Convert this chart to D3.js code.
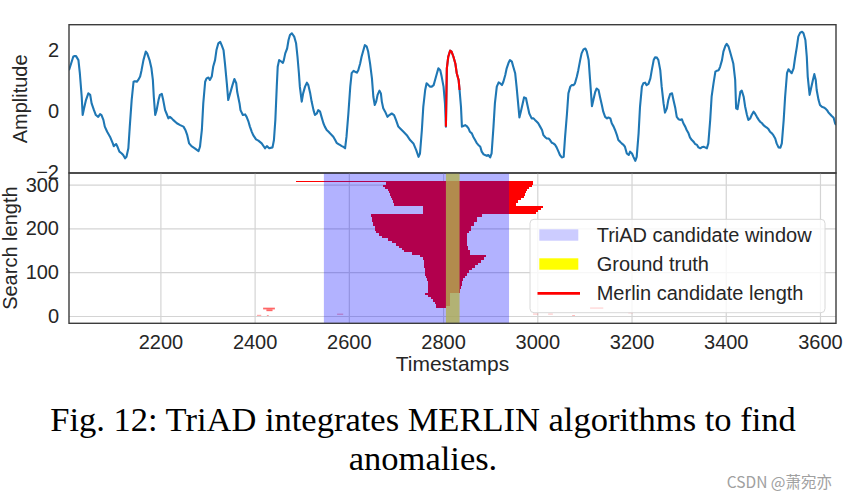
<!DOCTYPE html>
<html><head><meta charset="utf-8">
<script src="https://cdn.jsdelivr.net/npm/d3@7"></script>
<style>body{margin:0;background:#fff}svg{display:block}</style>
</head><body>
<svg id="c" width="847" height="499"></svg>
<script>
// ---------- data ----------
const ts = [2006,2015,2017,2021,2026,2029,2033,2035,2038,2042,2047,2051,2054,2059,2063,2068,2072,2075,2079,2082,2087,2093,2099,2101,2106,2109,2113,2118,2121,2125,2128,2132,2135,2139,2143,2146,2150,2153,2157,2160,2164,2169,2172,2177,2181,2184,2186,2189,2192,2196,2199,2203,2206,2210,2213,2217,2220,2224,2227,2235,2242,2249,2253,2257,2261,2266,2273,2281,2284,2288,2291,2295,2298,2302,2305,2309,2312,2316,2319,2323,2327,2330,2334,2337,2341,2344,2348,2353,2357,2361,2363,2368,2370,2375,2380,2383,2387,2390,2394,2397,2403,2408,2415,2422,2426,2431,2438,2441,2444,2447,2449,2452,2455,2460,2462,2465,2469,2472,2475,2479,2484,2488,2491,2494,2496,2500,2503,2507,2511,2514,2518,2521,2525,2528,2532,2535,2539,2542,2546,2549,2553,2557,2560,2564,2567,2571,2574,2578,2581,2585,2588,2592,2595,2599,2603,2606,2610,2613,2617,2620,2624,2627,2631,2634,2638,2641,2645,2649,2652,2655,2658,2661,2665,2668,2670,2673,2677,2682,2686,2691,2696,2700,2705,2709,2716,2723,2730,2737,2743,2748,2751,2755,2758,2762,2765,2769,2772,2776,2780,2783,2787,2790,2794,2797,2801,2804,2806,2808,2811,2815,2818,2822,2826,2829,2833,2835,2838,2840,2843,2847,2850,2854,2857,2861,2864,2868,2872,2875,2879,2882,2886,2889,2893,2896,2900,2903,2907,2910,2914,2918,2921,2925,2928,2932,2935,2939,2942,2946,2949,2953,2956,2960,2962,2965,2969,2972,2976,2979,2983,2988,2992,2995,2999,3002,3006,3010,3013,3017,3020,3024,3027,3031,3034,3038,3041,3045,3048,3052,3056,3059,3063,3066,3070,3073,3077,3080,3084,3087,3091,3094,3098,3102,3105,3109,3112,3116,3119,3123,3126,3130,3133,3137,3140,3144,3148,3151,3155,3158,3162,3165,3169,3172,3176,3179,3183,3186,3190,3194,3197,3201,3204,3208,3211,3215,3218,3222,3225,3229,3232,3236,3240,3243,3247,3250,3254,3257,3261,3264,3268,3271,3275,3278,3282,3286,3289,3293,3296,3300,3303,3307,3310,3314,3317,3321,3324,3328,3332,3335,3339,3342,3346,3349,3353,3356,3360,3363,3367,3370,3374,3378,3381,3385,3388,3392,3395,3399,3402,3406,3409,3413,3416,3420,3422,3425,3427,3431,3434,3438,3441,3445,3448,3452,3455,3459,3462,3466,3470,3473,3477,3480,3484,3487,3491,3494,3498,3501,3505,3508,3512,3516,3519,3523,3526,3530,3533,3537,3540,3544,3547,3551,3554,3558,3562,3565,3569,3572,3574,3578,3581,3585,3588,3591,3593,3597,3600,3604,3608,3611,3615,3618,3622,3625,3629,3632,3634];
const amp = [1.33,1.77,1.79,1.79,1.66,1.23,0.46,-0.14,0.08,0.35,0.57,0.52,0.24,0.02,-0.14,-0.20,-0.11,-0.14,-0.30,-0.52,-0.69,-0.85,-1.07,-1.16,-1.09,-1.18,-1.34,-1.40,-1.45,-1.56,-1.51,-1.23,-0.52,0.35,0.95,0.97,0.95,1.01,1.12,1.33,1.66,1.94,1.88,1.66,1.39,1.01,0.46,-0.14,0.02,0.35,0.52,0.55,0.35,0.02,-0.09,-0.25,-0.20,-0.25,-0.30,-0.41,-0.47,-0.52,-0.63,-0.80,-1.07,-1.16,-1.23,-1.32,-1.18,-0.63,0.24,0.95,1.06,1.09,1.01,1.12,1.44,1.66,1.99,2.21,2.26,2.15,1.99,1.55,0.90,0.35,0.57,0.84,1.04,0.90,0.62,0.24,0.02,-0.14,-0.12,-0.20,-0.36,-0.52,-0.69,-0.80,-0.94,-0.98,-1.07,-1.23,-1.16,-1.23,-1.20,-0.96,-0.30,0.79,1.44,1.66,1.63,1.57,1.66,1.88,2.04,2.32,2.48,2.54,2.43,2.21,1.77,1.23,0.79,0.30,0.57,0.79,0.92,0.84,0.57,0.30,0.02,-0.14,-0.09,0.02,-0.03,-0.20,-0.41,-0.52,-0.63,-0.69,-0.74,-0.80,-0.85,-0.96,-1.05,-1.09,-1.12,-1.16,-1.18,-1.23,-0.85,-0.09,0.79,1.23,1.31,1.28,1.25,1.33,1.55,1.77,1.99,2.15,2.10,1.94,1.55,1.06,0.46,0.19,0.30,0.52,0.66,0.57,0.30,0.08,-0.03,-0.20,-0.14,-0.09,-0.14,-0.30,-0.52,-0.58,-0.69,-0.80,-0.96,-1.07,-1.29,-1.51,-1.40,-0.63,0.13,0.68,0.90,0.84,0.79,0.79,0.84,1.01,1.23,1.39,1.33,1.12,0.79,0.24,-0.52,1.39,1.77,1.97,1.94,1.77,1.55,1.23,1.01,0.68,0.13,-0.52,-0.50,-0.47,-0.50,-0.58,-0.69,-0.74,-0.85,-0.96,-1.07,-1.12,-1.18,-1.34,-1.43,-1.45,-1.48,-1.45,-1.53,-1.40,-0.52,0.24,0.79,0.93,0.90,0.84,0.95,1.17,1.39,1.57,1.66,1.61,1.44,1.23,0.79,0.13,-0.22,-0.03,0.24,0.44,0.41,0.19,-0.09,-0.25,-0.25,-0.30,-0.36,-0.41,-0.52,-0.63,-0.80,-0.87,-0.91,-0.91,-0.96,-1.05,-1.07,-1.12,-1.20,-1.34,-1.45,-1.53,-1.51,-0.85,-0.09,0.57,0.79,0.84,0.84,0.90,1.12,1.33,1.66,1.88,2.01,2.04,1.94,1.66,1.01,0.15,0.35,0.62,0.73,0.68,0.46,0.19,-0.03,-0.20,-0.25,-0.22,-0.25,-0.41,-0.52,-0.63,-0.80,-0.96,-1.02,-1.07,-1.12,-1.18,-1.40,-1.45,-1.34,-1.40,-1.51,-1.64,-1.51,-0.74,0.13,0.79,0.90,0.92,0.84,0.88,1.06,1.33,1.66,1.75,1.74,1.66,1.33,0.79,0.24,-0.06,0.08,0.35,0.55,0.57,0.35,0.08,-0.20,-0.28,-0.30,-0.28,-0.41,-0.52,-0.63,-0.74,-0.87,-0.96,-1.02,-1.09,-1.12,-1.20,-1.23,-1.20,-1.18,-1.20,-1.23,-1.07,-0.30,0.46,0.90,1.28,1.31,1.33,1.44,1.66,1.94,2.12,2.19,2.10,1.94,1.72,1.55,1.01,0.08,0.05,0.24,0.62,0.66,0.46,0.15,-0.14,-0.30,-0.25,-0.14,-0.03,-0.09,-0.20,-0.30,-0.36,-0.41,-0.47,-0.52,-0.55,-0.61,-0.69,-0.74,-0.80,-0.91,-1.07,-1.20,-1.21,-1.07,-0.30,0.46,1.23,1.36,1.28,1.23,1.39,1.72,2.10,2.43,2.56,2.59,2.54,2.32,1.77,1.12,0.52,0.73,1.01,1.20,1.01,0.68,0.35,0.19,0.13,0.11,0.08,0.02,-0.06,-0.12,-0.17,-0.23,-0.41,-0.47];

const groundTruth = [2806, 2835];
const triadWindow = [2547, 2940];

const ampTicks = [-2, 0, 2];
const timeTicks = [2200, 2400, 2600, 2800, 3000, 3200, 3400, 3600];
const lenTicks = [0, 100, 200, 300];

// Merlin candidate rows: search-length band [lo, hi] -> candidate span [start, end]
const mlLo = [306,300,295,290,285,280,275,270,265,258,251,246,242,238,234,225,215,205,195,189,183,178,172,166,160,155,151,145,140,135,128,122,116,110,104,98,92,86,80,74,68,62,53,48,43,38,33,28,23,19];
const mlHi = [309,306,300,295,290,285,280,275,270,265,258,251,246,242,238,234,225,215,205,195,189,183,178,172,166,160,155,151,145,140,135,128,122,116,110,104,98,92,86,80,74,68,62,53,48,43,38,33,28,23];
const mlStart = [2488,2678,2673,2677,2683,2685,2687,2690,2692,2693,2695,2757,2757,2757,2757,2647,2649,2652,2655,2657,2663,2671,2683,2692,2700,2706,2712,2718,2735,2752,2758,2760,2760,2760,2761,2761,2762,2764,2766,2767,2768,2768,2768,2762,2769,2774,2779,2782,2785,2786];
const mlEnd = [2991,2991,2989,2982,2978,2976,2974,2971,2966,2960,2955,3012,3007,3002,2997,2883,2873,2865,2859,2854,2851,2851,2851,2851,2851,2852,2853,2857,2857,2892,2886,2880,2874,2868,2862,2856,2851,2846,2843,2841,2840,2838,2836,2815,2815,2815,2815,2815,2815,2806];
// small isolated candidates
const mfLo = [15, 11, 1, 0, 3.5, 4, 4, 0, 16, 6.5];
const mfHi = [19, 15, 2.5, 1.5, 5, 5, 5, 1, 20, 8];
const mfStart = [2418, 2425, 2405, 2426, 2575, 2991, 3023, 3074, 3112, 3193];
const mfEnd = [2443, 2438, 2414, 2430, 2588, 3002, 3033, 3080, 3140, 3203];

const legendLabels = ["TriAD candidate window", "Ground truth", "Merlin candidate length"];
const captionLines = ["Fig. 12: TriAD integrates MERLIN algorithms to find", "anomalies."];
const watermark = "CSDN @萧宛亦";

// ---------- layout ----------
const L = 69, R = 836, T1 = 24.7, B1 = 173, B2 = 323.3;
const SANS = "'Liberation Sans', Arial, Helvetica, sans-serif";
const SERIF = "'Liberation Serif', 'Times New Roman', serif";
const fmt = d3.format("d");
const svg = d3.select("#c");
svg.append("rect").attr("width", 847).attr("height", 499).attr("fill", "#fff");

const x = d3.scaleLinear().domain([2006, 3634]).range([L, R]);
const yA = d3.scaleLinear().domain([-2.04, 2.82]).range([B1, T1]);
const yL = d3.scaleLinear().domain([-16.7, 326.5]).range([B2, B1]);

const defs = svg.append("defs");
defs.append("clipPath").attr("id", "clipTop").append("rect")
  .attr("x", L).attr("y", T1).attr("width", R - L).attr("height", B1 - T1);
defs.append("clipPath").attr("id", "clipBot").append("rect")
  .attr("x", L).attr("y", B1).attr("width", R - L).attr("height", B2 - B1);

function styleAxis(g, size) {
  g.attr("font-family", SANS).attr("font-size", size);
  g.select(".domain").remove();
  g.selectAll("text").attr("fill", "#262626");
}

// ---------- top panel ----------
const topG = svg.append("g");
const series = ts.map((t, i) => [t, amp[i]]);
const line = d3.line().x(d => x(d[0])).y(d => yA(d[1]));
const plotTop = topG.append("g").attr("clip-path", "url(#clipTop)");
plotTop.append("path").datum(series).attr("d", line)
  .attr("fill", "none").attr("stroke", "#1f77b4").attr("stroke-width", 2.1)
  .attr("stroke-linejoin", "round");
plotTop.append("path").datum(series.filter(d => d[0] >= groundTruth[0] && d[0] <= groundTruth[1]))
  .attr("d", line).attr("fill", "none").attr("stroke", "#ff0000").attr("stroke-width", 2.1)
  .attr("stroke-linejoin", "round");

topG.append("g").attr("transform", `translate(${L},0)`)
  .call(d3.axisLeft(yA).tickValues(ampTicks).tickFormat(fmt).tickSize(0).tickPadding(10))
  .call(g => styleAxis(g, 20));
topG.append("rect").attr("x", L).attr("y", T1).attr("width", R - L).attr("height", B1 - T1)
  .attr("fill", "none").attr("stroke", "#3c3c3c").attr("stroke-width", 1.4);
topG.append("text").attr("transform", `translate(27,${(T1 + B1) / 2}) rotate(-90)`)
  .attr("text-anchor", "middle").attr("font-family", SANS).attr("font-size", 20)
  .attr("fill", "#262626").text("Amplitude");

// ---------- bottom panel ----------
const botG = svg.append("g");
botG.append("g").attr("transform", `translate(0,${B2})`)
  .call(d3.axisBottom(x).tickValues(timeTicks).tickSize(-(B2 - B1)).tickFormat(""))
  .call(g => { g.select(".domain").remove(); g.selectAll("line").attr("stroke", "#d4d4d4").attr("stroke-width", 1.2); });
botG.append("g").attr("transform", `translate(${L},0)`)
  .call(d3.axisLeft(yL).tickValues(lenTicks).tickSize(-(R - L)).tickFormat(""))
  .call(g => { g.select(".domain").remove(); g.selectAll("line").attr("stroke", "#d4d4d4").attr("stroke-width", 1.2); });

const plotBot = botG.append("g").attr("clip-path", "url(#clipBot)");
plotBot.selectAll("rect.ml").data(d3.range(mlLo.length)).join("rect").attr("class", "ml")
  .attr("x", i => x(mlStart[i])).attr("width", i => x(mlEnd[i]) - x(mlStart[i]))
  .attr("y", i => yL(mlHi[i])).attr("height", i => yL(mlLo[i]) - yL(mlHi[i]))
  .attr("fill", "#ff0000").attr("shape-rendering", "crispEdges");
plotBot.selectAll("rect.mf").data(d3.range(mfLo.length)).join("rect").attr("class", "mf")
  .attr("x", i => x(mfStart[i])).attr("width", i => x(mfEnd[i]) - x(mfStart[i]))
  .attr("y", i => yL(mfHi[i])).attr("height", i => yL(mfLo[i]) - yL(mfHi[i]))
  .attr("fill", "#ff0000").attr("opacity", 0.6);
plotBot.append("rect").attr("x", x(groundTruth[0])).attr("width", x(groundTruth[1]) - x(groundTruth[0]))
  .attr("y", B1).attr("height", B2 - B1).attr("fill", "#ffff00").attr("opacity", 0.78);
plotBot.append("rect").attr("x", x(triadWindow[0])).attr("width", x(triadWindow[1]) - x(triadWindow[0]))
  .attr("y", B1).attr("height", B2 - B1).attr("fill", "#0000ff").attr("opacity", 0.3);

botG.append("g").attr("transform", `translate(0,${B2})`)
  .call(d3.axisBottom(x).tickValues(timeTicks).tickFormat(fmt).tickSize(0).tickPadding(11.5))
  .call(g => styleAxis(g, 20));
botG.append("g").attr("transform", `translate(${L},0)`)
  .call(d3.axisLeft(yL).tickValues(lenTicks).tickFormat(fmt).tickSize(0).tickPadding(10))
  .call(g => styleAxis(g, 20));
botG.append("rect").attr("x", L).attr("y", B1).attr("width", R - L).attr("height", B2 - B1)
  .attr("fill", "none").attr("stroke", "#3c3c3c").attr("stroke-width", 1.4);
botG.append("text").attr("transform", `translate(16.5,${(B1 + B2) / 2}) rotate(-90)`)
  .attr("text-anchor", "middle").attr("font-family", SANS).attr("font-size", 20)
  .attr("fill", "#262626").text("Search length");
botG.append("text").attr("x", (L + R) / 2).attr("y", 370.5)
  .attr("text-anchor", "middle").attr("font-family", SANS).attr("font-size", 21)
  .attr("fill", "#262626").text("Timestamps");

// legend
const lg = svg.append("g").attr("transform", "translate(530,219.3)");
lg.append("rect").attr("width", 295).attr("height", 93.4).attr("rx", 4)
  .attr("fill", "#fff").attr("fill-opacity", 0.8).attr("stroke", "#d8d8d8").attr("stroke-width", 1);
const rowY = [15.7, 44.7, 74];
lg.append("rect").attr("x", 9.3).attr("y", rowY[0] - 5.7).attr("width", 39).attr("height", 11.4).attr("fill", "#ccccff");
lg.append("rect").attr("x", 9.3).attr("y", rowY[1] - 5.7).attr("width", 39).attr("height", 11.4).attr("fill", "#ffff00");
lg.append("line").attr("x1", 7.5).attr("x2", 50).attr("y1", rowY[2]).attr("y2", rowY[2])
  .attr("stroke", "#ff0000").attr("stroke-width", 2.7);
lg.selectAll("text").data(legendLabels).join("text")
  .attr("x", 66.7).attr("y", (d, i) => rowY[i]).attr("dy", "0.35em")
  .attr("font-family", SANS).attr("font-size", 20).attr("fill", "#262626").text(d => d);

// caption
svg.selectAll("text.cap").data(captionLines).join("text").attr("class", "cap")
  .attr("x", 423).attr("y", (d, i) => 431 + i * 38.5)
  .attr("text-anchor", "middle").attr("font-family", SERIF).attr("font-size", 34.5)
  .attr("fill", "#000").text(d => d);

svg.append("text").attr("x", 832).attr("y", 487.5).attr("text-anchor", "end")
  .attr("font-family", "'Noto Sans CJK SC', 'Noto Sans', sans-serif").attr("font-size", 15.5)
  .attr("fill", "#a0a0a0").text(watermark);
</script>
</body></html>
